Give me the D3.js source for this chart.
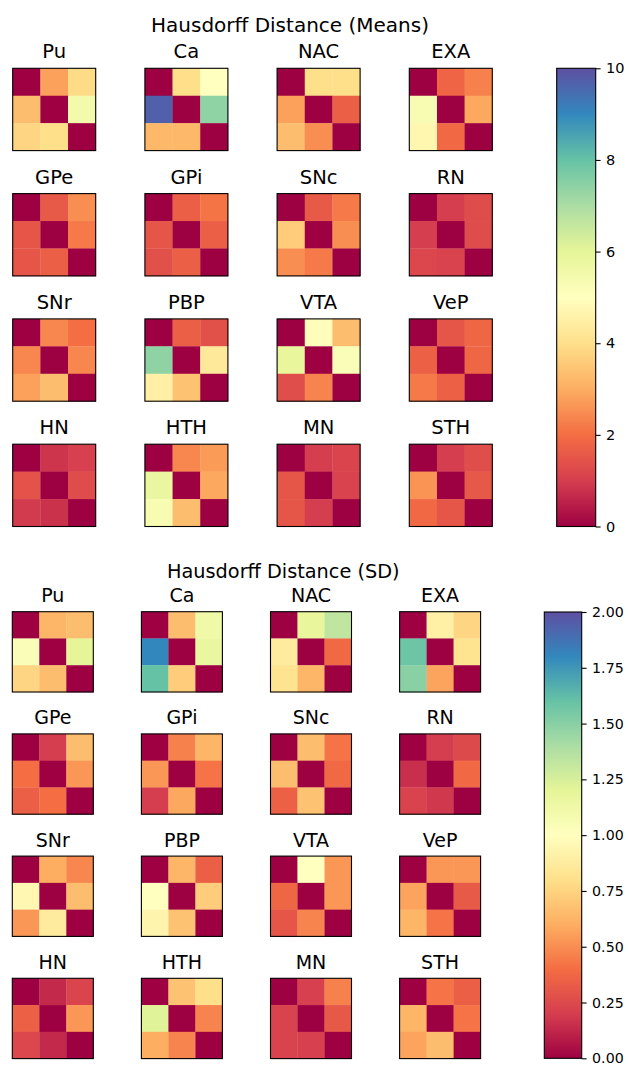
<!DOCTYPE html>
<html>
<head>
<meta charset="utf-8">
<script src="https://cdn.jsdelivr.net/npm/d3@7"></script>
<style>
  html, body { margin: 0; padding: 0; background: #fff; }
  svg { display: block; }
  text { font-family: "DejaVu Sans", sans-serif; fill: #000; }
</style>
</head>
<body>
<svg id="chart" width="629" height="1066"></svg>
<script>
// ---------- DATA ----------
const regions = ["Pu","Ca","NAC","EXA","GPe","GPi","SNc","RN","SNr","PBP","VTA","VeP","HN","HTH","MN","STH"];

const meanTitle = "Hausdorff Distance (Means)";
const sdTitle = "Hausdorff Distance (SD)";

const meanTicks = [0, 2, 4, 6, 8, 10];
const sdTicks = [0, 0.25, 0.5, 0.75, 1.0, 1.25, 1.5, 1.75, 2.0];

// each region: 3x3 matrix, row-major
const meanValues = [
  [0, 2.8, 3.9,   3.3, 0, 5.5,   3.8, 4.0, 0],   // Pu
  [0, 4.0, 5.0,   9.7, 0, 7.4,   3.2, 3.2, 0],   // Ca
  [0, 4.0, 4.0,   2.8, 0, 1.7,   3.3, 2.5, 0],   // NAC
  [0, 1.8, 2.3,   5.3, 0, 2.9,   4.7, 1.9, 0],   // EXA
  [0, 1.6, 2.5,   1.5, 0, 2.2,   1.5, 1.7, 0],   // GPe
  [0, 1.7, 2.1,   1.5, 0, 1.7,   1.4, 1.7, 0],   // GPi
  [0, 1.6, 2.2,   3.6, 0, 2.5,   2.5, 2.2, 0],   // SNc
  [0, 1.0, 1.3,   1.0, 0, 1.3,   1.2, 1.1, 0],   // RN
  [0, 2.4, 2.0,   2.4, 0, 2.4,   2.8, 3.3, 0],   // SNr
  [0, 1.7, 1.4,   7.4, 0, 4.3,   4.5, 3.4, 0],   // PBP
  [0, 4.95, 3.3,  5.9, 0, 5.2,   1.35, 2.35, 0], // VTA
  [0, 1.5, 1.85,  1.75, 0, 1.85, 2.2, 1.75, 0],  // VeP
  [0, 0.85, 1.05, 1.45, 0, 1.3,  0.95, 0.8, 0],  // HN
  [0, 2.4, 2.7,   5.8, 0, 2.9,   5.3, 3.3, 0],   // HTH
  [0, 1.0, 1.15,  1.5, 0, 1.1,   1.5, 1.0, 0],   // MN
  [0, 1.0, 1.35,  2.6, 0, 1.55,  1.9, 1.5, 0]    // STH
];

const sdValues = [
  [0, 0.63, 0.66,  1.04, 0, 1.2,   0.76, 0.66, 0],  // Pu
  [0, 0.66, 1.12,  1.8, 0, 1.16,   1.6, 0.72, 0],   // Ca
  [0, 1.18, 1.33,  0.87, 0, 0.38,  0.82, 0.63, 0],  // NAC
  [0, 0.9, 0.76,   1.58, 0, 0.82,  1.5, 0.57, 0],   // EXA
  [0, 0.2, 0.66,   0.4, 0, 0.53,   0.34, 0.4, 0],   // GPe
  [0, 0.46, 0.63,  0.53, 0, 0.42,  0.2, 0.58, 0],   // GPi
  [0, 0.66, 0.42,  0.66, 0, 0.38,  0.35, 0.68, 0],  // SNc
  [0, 0.2, 0.25,   0.15, 0, 0.38,  0.22, 0.18, 0],  // RN
  [0, 0.6, 0.48,   0.95, 0, 0.66,  0.53, 0.87, 0],  // SNr
  [0, 0.63, 0.34,  1.0, 0, 0.72,   0.93, 0.68, 0],  // PBP
  [0, 1.0, 0.53,   0.37, 0, 0.53,  0.3, 0.47, 0],   // VTA
  [0, 0.53, 0.53,  0.57, 0, 0.32,  0.63, 0.42, 0],  // VeP
  [0, 0.13, 0.23,  0.35, 0, 0.53,  0.24, 0.13, 0],  // HN
  [0, 0.68, 0.8,   1.22, 0, 0.47,  0.6, 0.47, 0],   // HTH
  [0, 0.21, 0.46,  0.22, 0, 0.31,  0.22, 0.21, 0],  // MN
  [0, 0.42, 0.34,  0.63, 0, 0.42,  0.57, 0.66, 0]   // STH
];

// ---------- LAYOUT ----------
const panels = [
  { title: meanTitle, values: meanValues, max: 10, ticks: meanTicks, fmt: d3.format("d"),
    titleX: 290, titleY: 32, titleSize: 20, subSize: 19.5, subGap: 10, tickSize: 14.5,
    colX0: 12.7, colStep: 132.2, w: 83, rowY0: 68.3, rowStep: 125.3, h: 82.3,
    cbX: 556.7, cbW: 39, cbY0: 68.3, cbY1: 526.5 },
  { title: sdTitle, values: sdValues, max: 2, ticks: sdTicks, fmt: d3.format(".2f"),
    titleX: 283.3, titleY: 578, titleSize: 19.3, subSize: 19, subGap: 9.5, tickSize: 14.2,
    colX0: 12.3, colStep: 129.1, w: 81, rowY0: 611.7, rowStep: 122.2, h: 80.3,
    cbX: 544.3, cbW: 37.4, cbY0: 612, cbY1: 1058.3 }
];

const spectral = d3.schemeSpectral[11];
const svg = d3.select("#chart");
const defs = svg.append("defs");

panels.forEach((p, pi) => {
  const color = d3.scaleLinear()
    .domain(d3.range(11).map(i => i / 10 * p.max))
    .range(spectral)
    .interpolate(d3.interpolateRgb)
    .clamp(true);

  const g = svg.append("g");

  g.append("text")
    .attr("x", p.titleX).attr("y", p.titleY)
    .attr("text-anchor", "middle")
    .style("font-size", p.titleSize + "px")
    .text(p.title);

  const colScale = d3.scaleLinear().domain([0, 1]).range([p.colX0, p.colX0 + p.colStep]);
  const rowScale = d3.scaleLinear().domain([0, 1]).range([p.rowY0, p.rowY0 + p.rowStep]);

  regions.forEach((name, ri) => {
    const c = ri % 4, r = Math.floor(ri / 4);
    const x0 = colScale(c), y0 = rowScale(r);
    const xs = d3.scaleBand().domain([0, 1, 2]).range([x0, x0 + p.w]);
    const ys = d3.scaleBand().domain([0, 1, 2]).range([y0, y0 + p.h]);
    const cells = p.values[ri].map((v, k) => ({ i: Math.floor(k / 3), j: k % 3, v }));

    const hg = g.append("g");
    hg.selectAll("rect.cell").data(cells).join("rect")
      .attr("class", "cell")
      .attr("x", d => xs(d.j))
      .attr("y", d => ys(d.i))
      .attr("width", xs.bandwidth() + 0.3)
      .attr("height", ys.bandwidth() + 0.3)
      .attr("fill", d => color(d.v));

    hg.append("rect")
      .attr("x", x0).attr("y", y0)
      .attr("width", p.w).attr("height", p.h)
      .attr("fill", "none").attr("stroke", "#000").attr("stroke-width", 1.1);

    hg.append("text")
      .attr("x", x0 + p.w / 2).attr("y", y0 - p.subGap)
      .attr("text-anchor", "middle")
      .style("font-size", p.subSize + "px")
      .text(name);
  });

  // colorbar
  const gradId = "grad" + pi;
  const grad = defs.append("linearGradient").attr("id", gradId)
    .attr("x1", 0).attr("y1", 1).attr("x2", 0).attr("y2", 0);
  grad.selectAll("stop").data(d3.range(11)).join("stop")
    .attr("offset", d => d / 10)
    .attr("stop-color", d => color(d / 10 * p.max));

  g.append("rect")
    .attr("x", p.cbX).attr("y", p.cbY0)
    .attr("width", p.cbW).attr("height", p.cbY1 - p.cbY0)
    .attr("fill", `url(#${gradId})`)
    .attr("stroke", "#000").attr("stroke-width", 1.1);

  const cbScale = d3.scaleLinear().domain([0, p.max]).range([p.cbY1, p.cbY0]);
  const axis = d3.axisRight(cbScale).tickValues(p.ticks).tickFormat(p.fmt)
    .tickSize(4.9).tickPadding(5.5);
  const ag = g.append("g")
    .attr("transform", `translate(${p.cbX + p.cbW},0)`)
    .call(axis);
  ag.select(".domain").remove();
  ag.selectAll(".tick line").attr("stroke", "#000").attr("stroke-width", 1.1);
  ag.selectAll(".tick text")
    .style("font-family", '"DejaVu Sans", sans-serif')
    .style("font-size", p.tickSize + "px")
    .attr("fill", "#000");
});
</script>
</body>
</html>
